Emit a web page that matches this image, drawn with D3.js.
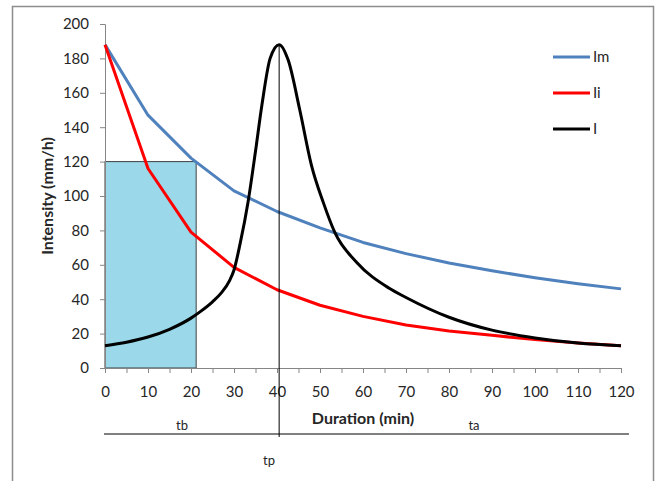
<!DOCTYPE html>
<html>
<head>
<meta charset="utf-8">
<script src="https://cdn.jsdelivr.net/npm/d3@7"></script>
<style>
  body { margin: 0; background: #fff; }
  svg text { font-family: Lato, "Open Sans", sans-serif; fill: #262626; }
</style>
</head>
<body>
<div id="container"></div>
<script>
// durations (min) and intensities (mm/h)
const durations = [0, 10, 20, 30, 40, 50, 60, 70, 80, 90, 100, 110, 120];
const imValues = [188, 147, 122, 103, 91, 81.5, 73, 66.5, 61, 56.5, 52.5, 49, 46];
const iiValues = [188, 116, 79, 58.5, 45.5, 36.5, 30, 25, 21.5, 19, 16.5, 14.5, 13];

const hyetoTimes = [0, 5, 10, 15, 20, 22, 25, 27, 29, 30, 31.4, 33.3, 35, 36.5, 38.4, 40.5, 42.6, 45.3, 48, 50.8, 53.5, 58.5, 66, 70, 80, 90, 100, 110, 120];
const hyetoValues = [13, 15, 18, 22.5, 29, 32.5, 38.5, 43.5, 51, 57, 72, 97, 126, 153, 180, 188, 179, 150, 118, 96, 78.5, 61.5, 46.5, 41, 29.5, 22, 17.5, 14.5, 13];

const yTicks = [0, 20, 40, 60, 80, 100, 120, 140, 160, 180, 200];
const xTicks = [0, 10, 20, 30, 40, 50, 60, 70, 80, 90, 100, 110, 120];
const xMinorTicks = d3.range(0, 121, 5);

const tb = 21.2;       // end of the block duration
const blockValue = 120;
const tp = 40.5;       // peak time

const legendNames = ['Im', 'Ii', 'I'];
const legendColors = ['#4f81bd', '#ff0000', '#000000'];

const width = 662;
const height = 481;
const axisColor = '#868686';

const x = d3.scaleLinear().domain([0, 120]).range([105, 621]);
const y = d3.scaleLinear().domain([0, 200]).range([368, 24]);

const svg = d3.select('#container')
  .append('svg')
  .attr('width', width)
  .attr('height', height);

// outer frame
svg.append('rect')
   .attr('x', 12.5)
   .attr('y', 6.5)
   .attr('width', 641)
   .attr('height', 490)
   .attr('fill', 'none')
   .attr('stroke', '#8c8c8c')
   .attr('stroke-width', 1.5);

// tb block
svg.append('rect')
   .attr('x', x(0))
   .attr('y', y(blockValue))
   .attr('width', x(tb) - x(0))
   .attr('height', y(0) - y(blockValue))
   .attr('fill', '#9ad8ea')
   .attr('stroke', '#404040')
   .attr('stroke-width', 1);

// y axis
const yAxis = d3.axisLeft(y).tickValues(yTicks).tickSize(5).tickPadding(11);
const gy = svg.append('g')
  .attr('transform', 'translate(' + x(0) + ',0)')
  .call(yAxis);
gy.select('.domain').attr('stroke', axisColor);
gy.selectAll('.tick line').attr('stroke', axisColor);
gy.selectAll('.tick text').attr('font-size', 15).style('font-family', 'Lato, sans-serif').attr('fill', '#1a1a1a');

// x axis, minor ticks every 5 min
const xAxisMinor = d3.axisBottom(x).tickValues(xMinorTicks).tickSize(5).tickFormat('');
const gxm = svg.append('g')
  .attr('transform', 'translate(0,' + y(0) + ')')
  .call(xAxisMinor);
gxm.select('.domain').attr('stroke', axisColor);
gxm.selectAll('.tick line').attr('stroke', axisColor);

const xAxis = d3.axisBottom(x).tickValues(xTicks).tickSize(5).tickPadding(13);
const gx = svg.append('g')
  .attr('transform', 'translate(0,' + y(0) + ')')
  .call(xAxis);
gx.select('.domain').remove();
gx.selectAll('.tick line').attr('stroke', axisColor);
gx.selectAll('.tick text').attr('font-size', 15).style('font-family', 'Lato, sans-serif').attr('fill', '#1a1a1a');

// series
const line = d3.line()
  .x(d => x(d[0]))
  .y(d => y(d[1]));

svg.append('path')
   .datum(durations.map((t, i) => [t, imValues[i]]))
   .attr('d', line.curve(d3.curveLinear))
   .attr('fill', 'none')
   .attr('stroke', legendColors[0])
   .attr('stroke-width', 3)
   .attr('stroke-linejoin', 'round');

svg.append('path')
   .datum(durations.map((t, i) => [t, iiValues[i]]))
   .attr('d', line.curve(d3.curveLinear))
   .attr('fill', 'none')
   .attr('stroke', legendColors[1])
   .attr('stroke-width', 3)
   .attr('stroke-linejoin', 'round');

svg.append('path')
   .datum(hyetoTimes.map((t, i) => [t, hyetoValues[i]]))
   .attr('d', line.curve(d3.curveMonotoneX))
   .attr('fill', 'none')
   .attr('stroke', legendColors[2])
   .attr('stroke-width', 3);

// tp line
svg.append('line')
   .attr('x1', x(tp)).attr('x2', x(tp))
   .attr('y1', y(188)).attr('y2', 437)
   .attr('stroke', '#000')
   .attr('stroke-width', 1);

// duration line below the axis
svg.append('line')
   .attr('x1', x(0) - 1).attr('x2', x(120) + 8)
   .attr('y1', 434).attr('y2', 434)
   .attr('stroke', '#000')
   .attr('stroke-width', 1);

// labels
svg.append('text')
   .text('tb')
   .attr('x', 182).attr('y', 430)
   .attr('text-anchor', 'middle')
   .attr('font-size', 13);

svg.append('text')
   .text('ta')
   .attr('x', 474).attr('y', 430)
   .attr('text-anchor', 'middle')
   .attr('font-size', 13);

svg.append('text')
   .text('tp')
   .attr('x', 269).attr('y', 465)
   .attr('text-anchor', 'middle')
   .attr('font-size', 13);

svg.append('text')
   .text('Duration (min)')
   .attr('x', 363).attr('y', 424)
   .attr('text-anchor', 'middle')
   .attr('font-size', 16)
   .attr('font-weight', 'bold');

svg.append('text')
   .text('Intensity (mm/h)')
   .attr('transform', 'translate(53,196) rotate(-90)')
   .attr('text-anchor', 'middle')
   .attr('font-size', 16)
   .attr('font-weight', 'bold');

// legend
const legend = svg.append('g')
  .attr('transform', 'translate(553,57)');

legend.selectAll('line')
      .data(legendNames)
      .enter()
      .append('line')
      .attr('x1', 0).attr('x2', 37)
      .attr('y1', (d, i) => i * 36).attr('y2', (d, i) => i * 36)
      .attr('stroke', (d, i) => legendColors[i])
      .attr('stroke-width', 3);

legend.selectAll('text')
      .data(legendNames)
      .enter()
      .append('text')
      .text(d => d)
      .attr('x', 40)
      .attr('y', (d, i) => i * 36 + 5)
      .attr('font-size', 15);
</script>
</body>
</html>
